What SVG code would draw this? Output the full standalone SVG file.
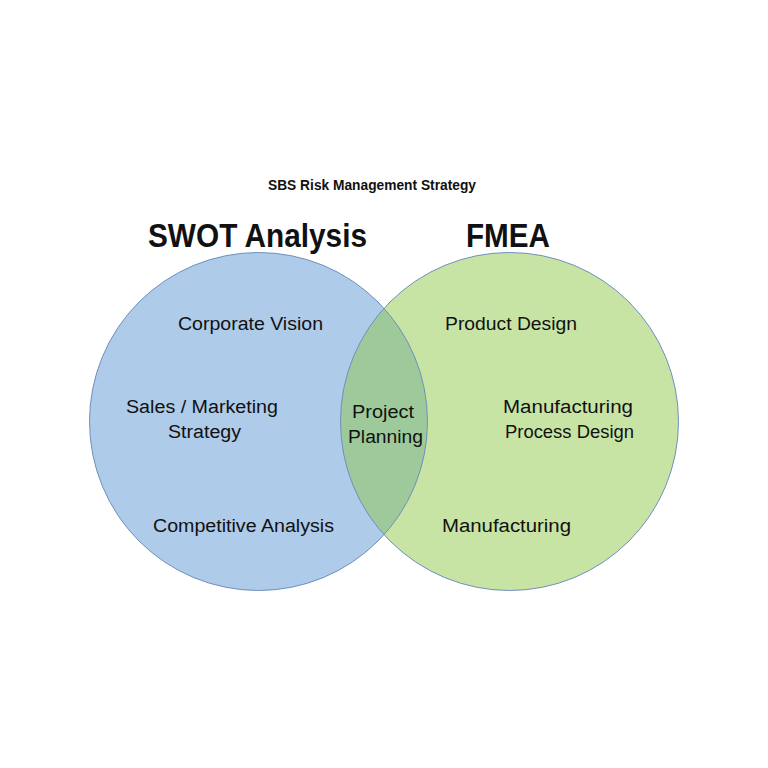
<svg xmlns="http://www.w3.org/2000/svg" width="768" height="768" viewBox="0 0 768 768">
<style>
text{font-family:"Liberation Sans",Arial,sans-serif;fill:#111;}
.t{font-size:14px;font-weight:bold;}
.h{font-size:33px;font-weight:bold;}
.l{font-size:18px;}
.ring{fill:none;stroke:#6f8fbd;stroke-width:1;}
</style>
<defs>
<clipPath id="clipL"><circle cx="258.5" cy="421.5" r="169"/></clipPath>
</defs>
<rect width="768" height="768" fill="#ffffff"/>
<g id="title">
<text class="t" x="268" y="190" textLength="208" lengthAdjust="spacingAndGlyphs">SBS Risk Management Strategy</text>
</g>
<g id="swot">
<circle cx="258.5" cy="421.5" r="169" fill="#aecbea"/>
</g>
<g id="fmea">
<circle cx="509.5" cy="421.5" r="169" fill="#c8e4a5"/>
</g>
<g id="overlap">
<circle cx="509.5" cy="421.5" r="169" fill="#9ec99a" clip-path="url(#clipL)"/>
</g>
<g id="outlines">
<circle class="ring" cx="258.5" cy="421.5" r="169"/>
<circle class="ring" cx="509.5" cy="421.5" r="169"/>
</g>
<g id="swot-labels">
<text class="h" x="148" y="247" textLength="219" lengthAdjust="spacingAndGlyphs">SWOT Analysis</text>
<text class="l" x="178" y="330" textLength="145" lengthAdjust="spacingAndGlyphs">Corporate Vision</text>
<text class="l" x="126" y="413" textLength="152" lengthAdjust="spacingAndGlyphs">Sales / Marketing</text>
<text class="l" x="168" y="438" textLength="73" lengthAdjust="spacingAndGlyphs">Strategy</text>
<text class="l" x="153" y="532" textLength="181" lengthAdjust="spacingAndGlyphs">Competitive Analysis</text>
</g>
<g id="overlap-labels">
<text class="l" x="352" y="418" textLength="62" lengthAdjust="spacingAndGlyphs">Project</text>
<text class="l" x="348" y="443" textLength="75" lengthAdjust="spacingAndGlyphs">Planning</text>
</g>
<g id="fmea-labels">
<text class="h" x="466" y="247" textLength="84" lengthAdjust="spacingAndGlyphs">FMEA</text>
<text class="l" x="445" y="330" textLength="132" lengthAdjust="spacingAndGlyphs">Product Design</text>
<text class="l" x="503" y="413" textLength="130" lengthAdjust="spacingAndGlyphs">Manufacturing</text>
<text class="l" x="505" y="438" textLength="129" lengthAdjust="spacingAndGlyphs">Process Design</text>
<text class="l" x="442" y="532" textLength="129" lengthAdjust="spacingAndGlyphs">Manufacturing</text>
</g>
</svg>
